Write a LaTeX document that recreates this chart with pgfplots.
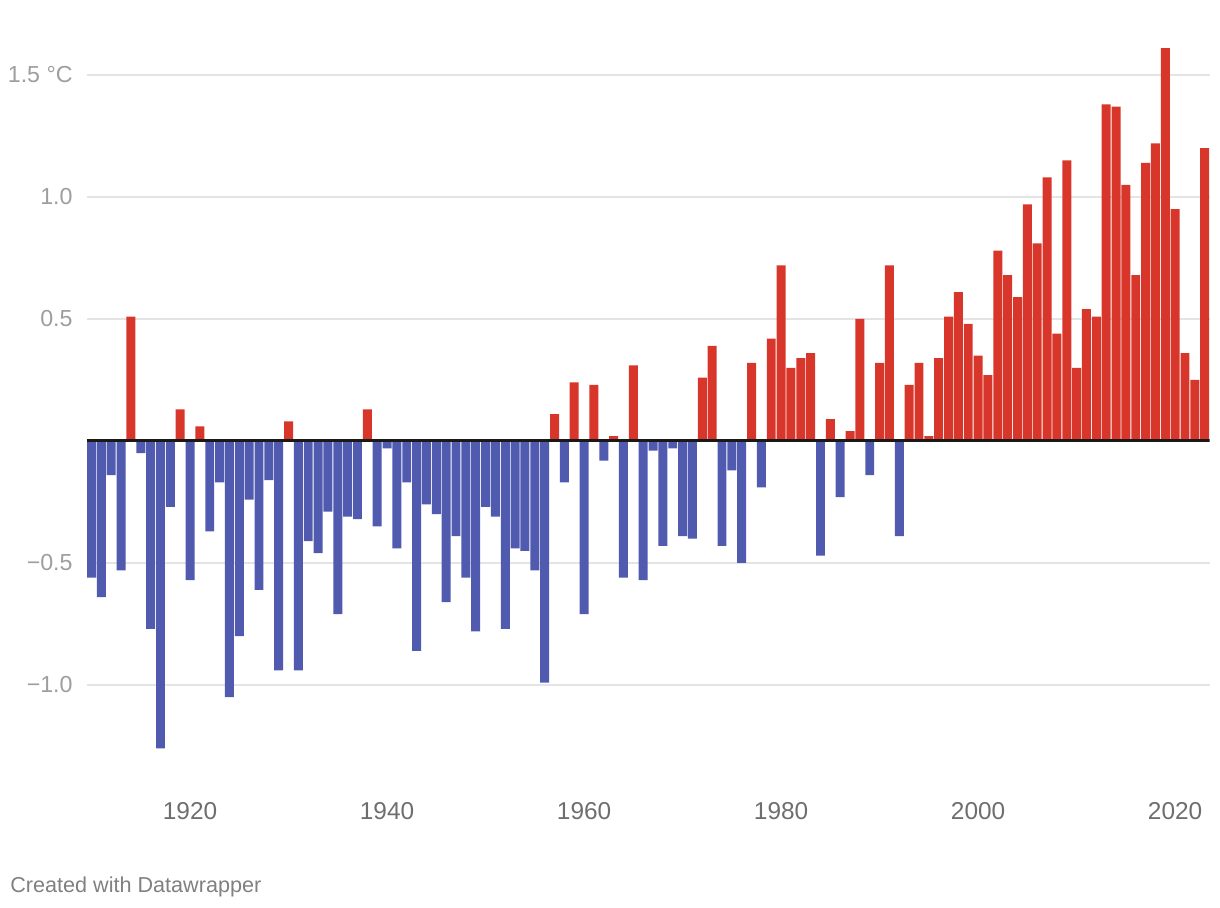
\documentclass[border=0pt]{standalone}
\usepackage{pgfplots}
\pgfplotsset{compat=1.18}
\usepackage{pgfplotstable}
\usepackage{fontspec}
\setmainfont{Liberation Sans}

\definecolor{warm}{RGB}{216,54,42}
\definecolor{cold}{RGB}{80,91,176}
\definecolor{gridgray}{RGB}{228,228,228}
\definecolor{ylab}{RGB}{158,158,158}
\definecolor{xlab}{RGB}{110,110,110}
\definecolor{note}{RGB}{128,128,128}

% temperature anomaly per year
\pgfplotstableread{
year v
1910 -0.56
1911 -0.64
1912 -0.14
1913 -0.53
1914 0.51
1915 -0.05
1916 -0.77
1917 -1.26
1918 -0.27
1919 0.13
1920 -0.57
1921 0.06
1922 -0.37
1923 -0.17
1924 -1.05
1925 -0.80
1926 -0.24
1927 -0.61
1928 -0.16
1929 -0.94
1930 0.08
1931 -0.94
1932 -0.41
1933 -0.46
1934 -0.29
1935 -0.71
1936 -0.31
1937 -0.32
1938 0.13
1939 -0.35
1940 -0.03
1941 -0.44
1942 -0.17
1943 -0.86
1944 -0.26
1945 -0.30
1946 -0.66
1947 -0.39
1948 -0.56
1949 -0.78
1950 -0.27
1951 -0.31
1952 -0.77
1953 -0.44
1954 -0.45
1955 -0.53
1956 -0.99
1957 0.11
1958 -0.17
1959 0.24
1960 -0.71
1961 0.23
1962 -0.08
1963 0.02
1964 -0.56
1965 0.31
1966 -0.57
1967 -0.04
1968 -0.43
1969 -0.03
1970 -0.39
1971 -0.40
1972 0.26
1973 0.39
1974 -0.43
1975 -0.12
1976 -0.50
1977 0.32
1978 -0.19
1979 0.42
1980 0.72
1981 0.30
1982 0.34
1983 0.36
1984 -0.47
1985 0.09
1986 -0.23
1987 0.04
1988 0.50
1989 -0.14
1990 0.32
1991 0.72
1992 -0.39
1993 0.23
1994 0.32
1995 0.02
1996 0.34
1997 0.51
1998 0.61
1999 0.48
2000 0.35
2001 0.27
2002 0.78
2003 0.68
2004 0.59
2005 0.97
2006 0.81
2007 1.08
2008 0.44
2009 1.15
2010 0.30
2011 0.54
2012 0.51
2013 1.38
2014 1.37
2015 1.05
2016 0.68
2017 1.14
2018 1.22
2019 1.61
2020 0.95
2021 0.36
2022 0.25
2023 1.20
}\anomaly

\begin{document}
\begin{tikzpicture}
\useasboundingbox (0,0) rectangle (610pt,454pt);
\begin{axis}[
  at={(43.3pt,62.7pt)}, anchor=south west,
  scale only axis, width=561.5pt, height=372.1pt,
  xmin=1909.5, xmax=2023.5, ymin=-1.4, ymax=1.65,
  axis line style={draw=none}, major tick length=0pt,
  xtick={1920,1940,1960,1980,2000,2020},
  xticklabels={1920,1940,1960,1980,2000,2020},
  ytick={-1,-0.5,0.5,1,1.5},
  yticklabels={−1.0,−0.5,0.5,1.0,1.5 °C},
  ymajorgrids, grid style={gridgray, line width=1pt},
  xticklabel style={anchor=center, yshift=-14.2pt, text=xlab,
    font=\fontsize{12.2}{14}\selectfont},
  yticklabel style={anchor=east, inner sep=0pt, xshift=-6.8pt, text=ylab,
    font=\fontsize{11.6}{13}\selectfont},
  ybar, bar width=0.91,
]
\addplot[fill=cold, draw=none, bar shift=0pt, restrict y to domain=-5:0]
  table[x=year, y=v]{\anomaly};
\addplot[fill=warm, draw=none, bar shift=0pt, restrict y to domain=0:5]
  table[x=year, y=v]{\anomaly};
\addplot[sharp plot, black!90, line width=1.5pt] coordinates {(1909.5,0) (2023.5,0)};
\end{axis}
\node[anchor=base west, inner sep=0pt, text=note, font=\fontsize{10.8}{13}\selectfont]
  at (5pt,7.5pt) {Created with Datawrapper};
\end{tikzpicture}
\end{document}
